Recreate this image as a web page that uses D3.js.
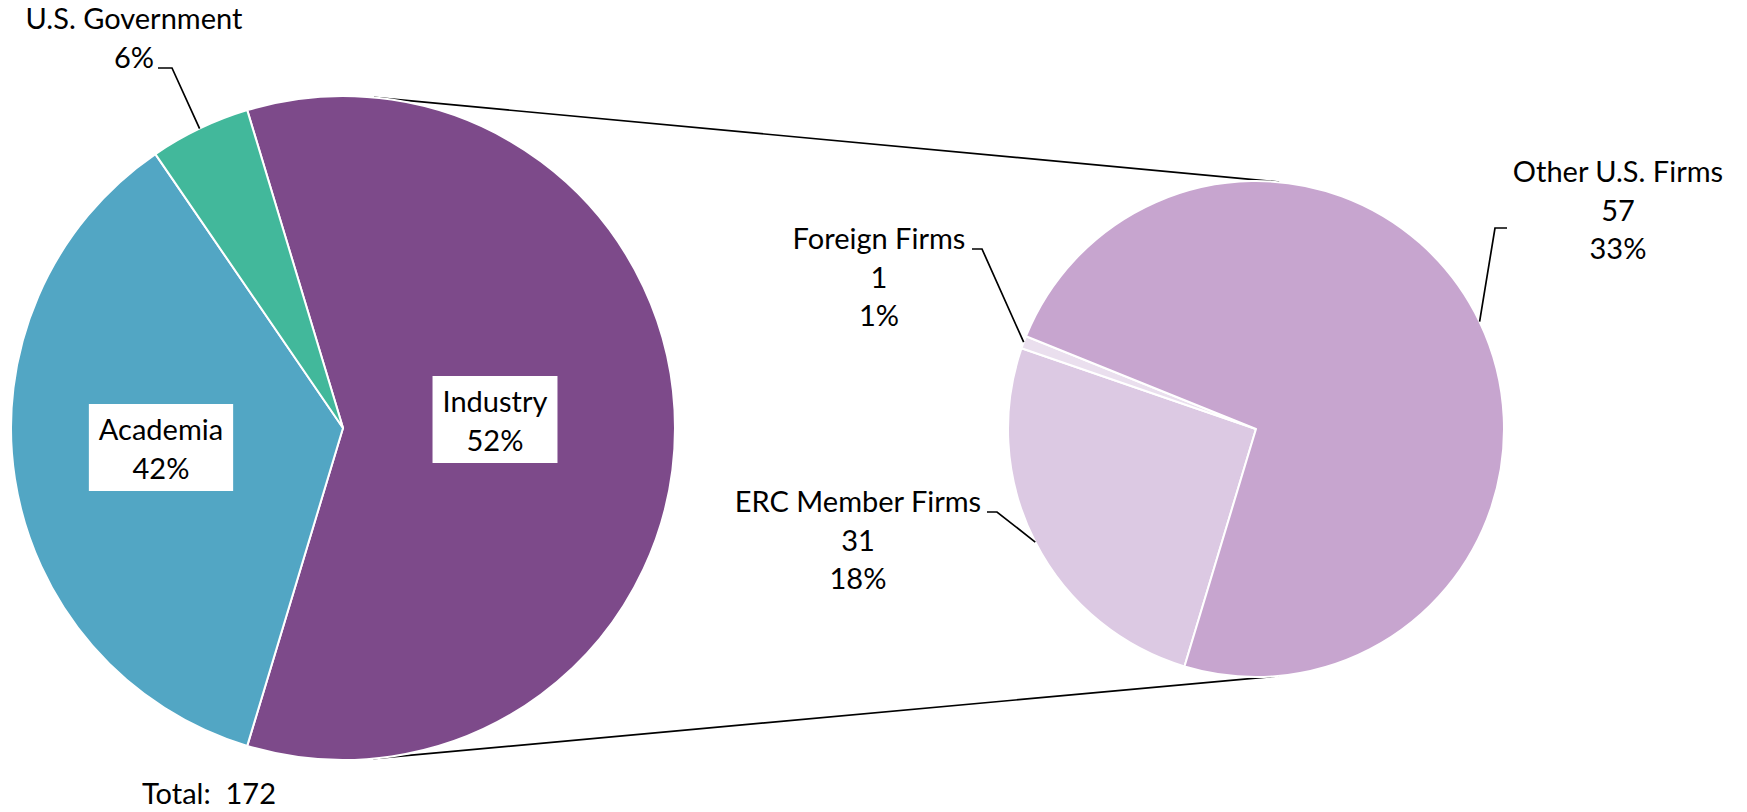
<!DOCTYPE html>
<html>
<head>
<meta charset="utf-8">
<script src="https://cdn.jsdelivr.net/npm/d3@7"></script>
<style>
  body { margin: 0; background: #fff; }
  text { font-family: Lato, "Open Sans", sans-serif; fill: #000; }
</style>
</head>
<body>
<div id="chart"></div>
<script>
// primary pie (all participants)
let mainCategories = ["Industry", "Academia", "U.S. Government"];
let mainSizes = [121, 73, 10];           // slice sizes as drawn in the picture
let mainPercents = ["52%", "42%", "6%"];

// secondary pie (industry breakdown)
let subCategories = ["ERC Member Firms", "Foreign Firms", "Other U.S. Firms"];
let subSizes = [31, 1, 89];              // slice sizes as drawn in the picture
let subCounts = ["31", "1", "57"];
let subPercents = ["18%", "1%", "33%"];

let totalLabel = "Total:  172";

let mainColors = ["#7D4A8A", "#52A6C4", "#42B89B"];
let subColors = ["#DCC9E3", "#EADFEE", "#C7A5CF"];

// set up the overall size
let svgWidth = 1747;
let svgHeight = 812;
let fontSize = 29;
let lineHeight = 38.7;

let mainPie = {cx: 343, cy: 428, r: 332};
let subPie = {cx: 1256, cy: 429, r: 248};

let svg = d3.select("#chart")
  .append("svg")
  .attr("width", svgWidth)
  .attr("height", svgHeight);

// the industry slice is centred on 3 o'clock
let mainTotal = d3.sum(mainSizes);
let industryShare = mainSizes[0] / mainTotal;
let mainStart = Math.PI / 2 - industryShare * Math.PI;
let subStart = Math.PI / 2 + industryShare * Math.PI;

let mainArcs = d3.pie().sort(null)
  .startAngle(mainStart).endAngle(mainStart + 2 * Math.PI)(mainSizes);
let subArcs = d3.pie().sort(null)
  .startAngle(subStart).endAngle(subStart + 2 * Math.PI)(subSizes);

// connector lines: outer tangents between the two circles
let dx = subPie.cx - mainPie.cx, dy = subPie.cy - mainPie.cy;
let dist = Math.sqrt(dx * dx + dy * dy);
let phi = Math.atan2(dy, dx);
let alpha = Math.acos((mainPie.r - subPie.r) / dist);
[phi - alpha, phi + alpha].forEach(function(a) {
  let nx = Math.cos(a), ny = Math.sin(a);
  svg.append("line")
    .attr("x1", mainPie.cx + mainPie.r * nx)
    .attr("y1", mainPie.cy + mainPie.r * ny)
    .attr("x2", subPie.cx + subPie.r * nx)
    .attr("y2", subPie.cy + subPie.r * ny)
    .attr("stroke", "#000")
    .attr("stroke-width", 1.7);
});

function drawPie(arcs, pie, colors) {
  let arc = d3.arc().innerRadius(0).outerRadius(pie.r);
  svg.append("g")
    .attr("transform", `translate(${pie.cx},${pie.cy})`)
    .selectAll("path")
    .data(arcs)
    .enter()
    .append("path")
    .attr("d", arc)
    .attr("fill", (d, i) => colors[i])
    .attr("stroke", "#fff")
    .attr("stroke-width", 2)
    .attr("stroke-linejoin", "round");
}
drawPie(mainArcs, mainPie, mainColors);
drawPie(subArcs, subPie, subColors);

// label layout: centre x, first baseline, optional box, leader elbow and end
let mainLabelLayout = [
  {x: 495, y: 412, box: true},
  {x: 161, y: 440, box: true},
  {x: 134, y: 29, elbow: [172, 68], end: [158, 68]}
];
let subLabelLayout = [
  {x: 858, y: 512, elbow: [997, 512], end: [987, 512]},
  {x: 879, y: 249, elbow: [982, 249], end: [972, 249]},
  {x: 1618, y: 182, elbow: [1495, 228], end: [1507, 228]}
];

function drawLabel(lines, layout, arcDatum, pie) {
  let g = svg.append("g");
  if (layout.elbow) {
    let a = (arcDatum.startAngle + arcDatum.endAngle) / 2;
    let px = pie.cx + pie.r * Math.sin(a);
    let py = pie.cy - pie.r * Math.cos(a);
    g.append("polyline")
      .attr("points", [[px, py], layout.elbow, layout.end].map(p => p.join(",")).join(" "))
      .attr("fill", "none")
      .attr("stroke", "#000")
      .attr("stroke-width", 1.7);
  }
  let t = g.append("text")
    .attr("text-anchor", "middle")
    .attr("font-size", fontSize);
  lines.forEach(function(s, i) {
    t.append("tspan")
      .attr("x", layout.x)
      .attr("y", layout.y + i * lineHeight)
      .text(s);
  });
  if (layout.box) {
    let w = d3.max(t.selectAll("tspan").nodes(), n => n.getComputedTextLength()) + 20;
    g.insert("rect", "text")
      .attr("x", layout.x - w / 2)
      .attr("y", layout.y - 36)
      .attr("width", w)
      .attr("height", 87)
      .attr("fill", "#fff");
  }
}

mainArcs.forEach(function(d, i) {
  drawLabel([mainCategories[i], mainPercents[i]], mainLabelLayout[i], d, mainPie);
});
subArcs.forEach(function(d, i) {
  drawLabel([subCategories[i], subCounts[i], subPercents[i]], subLabelLayout[i], d, subPie);
});

svg.append("text")
  .attr("x", 142)
  .attr("y", 804)
  .attr("font-size", fontSize)
  .attr("xml:space", "preserve")
  .style("white-space", "pre")
  .text(totalLabel);
</script>
</body>
</html>
